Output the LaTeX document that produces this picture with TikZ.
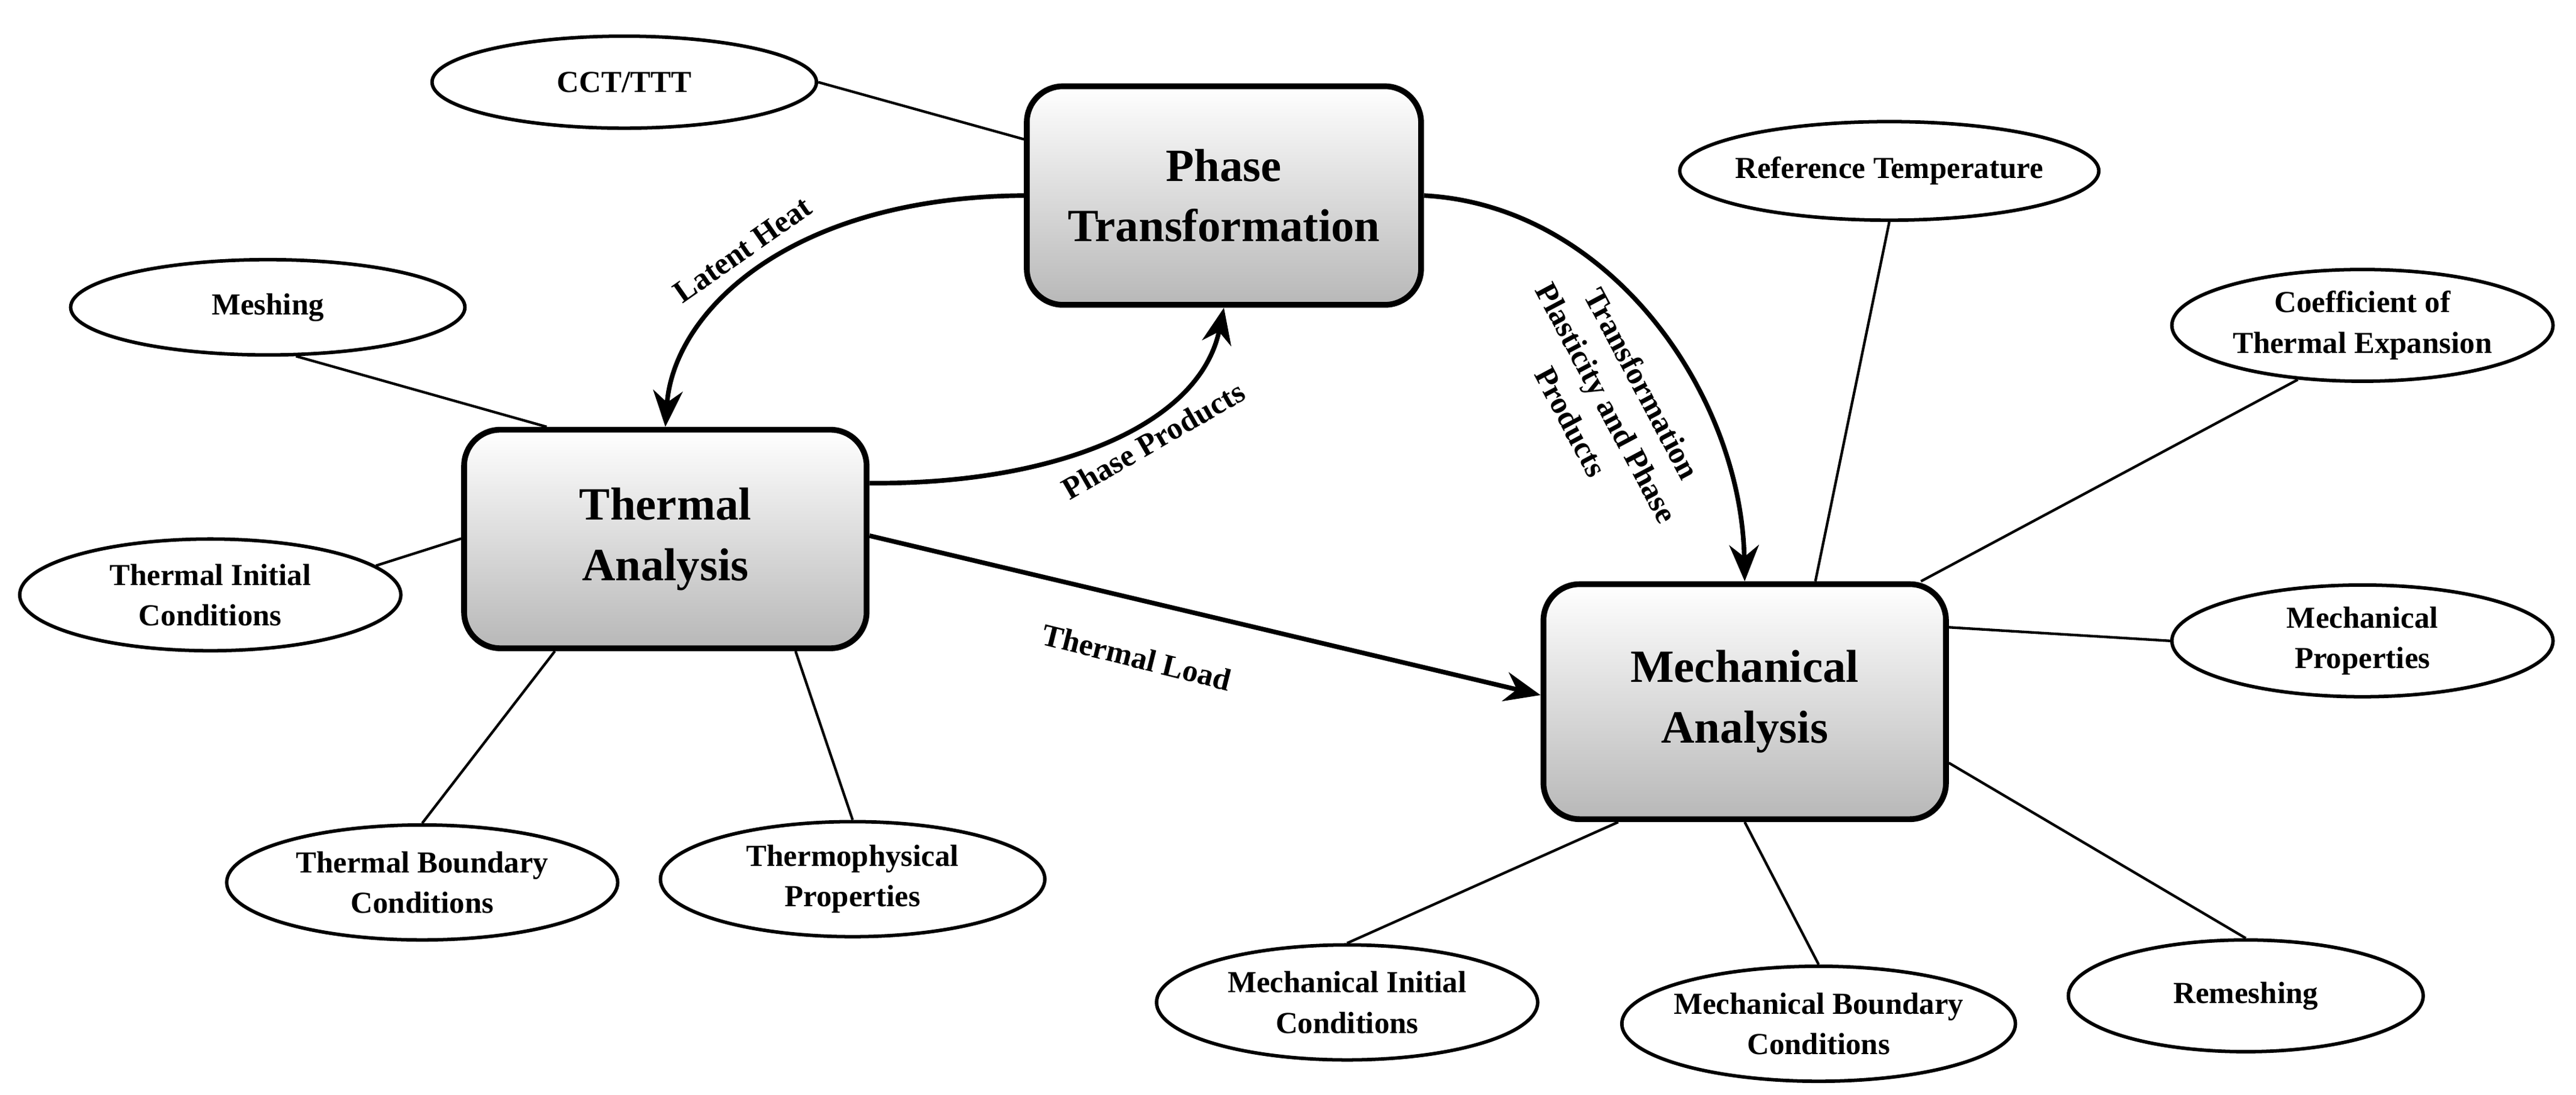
\documentclass[tikz,border=0pt]{standalone}
\usepackage{fontspec}
\setmainfont{Liberation Serif}
\usetikzlibrary{shapes.geometric,arrows.meta}
\begin{document}
\begin{tikzpicture}[x=0.1mm,y=-0.1mm,
 box/.style={draw,line width=1pt,rounded corners=2.2mm,top color=white,bottom color=black!28,minimum width=24mm,minimum height=13.3mm,align=center,font=\fontsize{8}{10.5}\selectfont\bfseries},
 ell/.style={draw,ellipse,line width=0.6pt,inner sep=-1pt,align=center,font=\fontsize{5.3}{7}\selectfont\bfseries},
 ln/.style={line width=0.45pt},
 arr/.style={line width=0.8pt,-{Stealth[length=2.2mm,width=1.8mm]}},
 lab/.style={font=\fontsize{5.4}{7}\selectfont\bfseries,align=center}]
\useasboundingbox (0,0) rectangle (1568,666);
\node[box] (phase) at (745,119) {Phase\\Transformation};
\node[box,minimum width=24.5mm] (therm) at (405,328) {Thermal\\Analysis};
\node[box,minimum width=24.5mm,minimum height=14.3mm] (mech) at (1062,427) {Mechanical\\Analysis};
\node[ell,minimum width=23.4mm,minimum height=5.6mm] (cct) at (380,50) {CCT/TTT};
\node[ell,minimum width=24mm,minimum height=5.8mm] (mesh) at (163,187) {Meshing};
\node[ell,minimum width=23.2mm,minimum height=6.8mm] (tic) at (128,362) {Thermal Initial\\Conditions};
\node[ell,minimum width=23.8mm,minimum height=7mm] (tbc) at (257,537) {Thermal Boundary\\Conditions};
\node[ell,minimum width=23.4mm,minimum height=7mm] (tp) at (519,535) {Thermophysical\\Properties};
\node[ell,minimum width=23.2mm,minimum height=6mm] (rt) at (1150,104) {Reference Temperature};
\node[ell,minimum width=23.2mm,minimum height=6.8mm] (cte) at (1438,198) {Coefficient of\\Thermal Expansion};
\node[ell,minimum width=23.2mm,minimum height=6.8mm] (mp) at (1438,390) {Mechanical\\Properties};
\node[ell,minimum width=23.2mm,minimum height=7mm] (mic) at (820,610) {Mechanical Initial\\Conditions};
\node[ell,minimum width=23.2mm,minimum height=7mm] (mbc) at (1107,623) {Mechanical Boundary\\Conditions};
\node[ell,minimum width=21.6mm,minimum height=6.8mm] (rm) at (1367,606) {Remeshing};
\draw[ln] (cct.east) -- ([yshift=-3.4mm]phase.north west);
\draw[ln] (mesh.-60) -- ([xshift=5.2mm]therm.north west);
\draw[ln] (tic.10) -- ([yshift=-6.8mm]therm.north west);
\draw[ln] (tbc.north) -- ([xshift=5.7mm]therm.south west);
\draw[ln] (tp.north) -- ([xshift=-4.5mm]therm.south east);
\draw[ln] (rt.south) -- ([xshift=4.3mm]mech.north);
\draw[ln] (cte.-140) -- ([xshift=-1.7mm]mech.north east);
\draw[ln] (mp.west) -- ([yshift=-2.8mm]mech.north east);
\draw[ln] (mic.north) -- ([xshift=-7.7mm]mech.south);
\draw[ln] (mbc.north) -- (mech.south);
\draw[ln] (rm.north) -- ([yshift=3.6mm]mech.south east);
\draw[arr] (phase.west) .. controls (480,120) and (410,190) .. (therm.north);
\draw[arr] ([yshift=3.4mm]therm.east) .. controls (640,295) and (730,260) .. (phase.south);
\draw[arr] (phase.east) .. controls (980,125) and (1060,240) .. (mech.north);
\draw[arr] ([yshift=0.2mm]therm.east) -- ([yshift=0.4mm]mech.west);
\node[lab,rotate=35] (lh) at (452,152) {Latent Heat};
\node[lab,rotate=30] (pp) at (702,268) {Phase Products};
\node[lab,rotate=-14] (tl) at (692,400) {Thermal Load};
\node[lab,rotate=-62] (tpp) at (978,245) {Transformation\\Plasticity and Phase\\Products};
\end{tikzpicture}
\end{document}
